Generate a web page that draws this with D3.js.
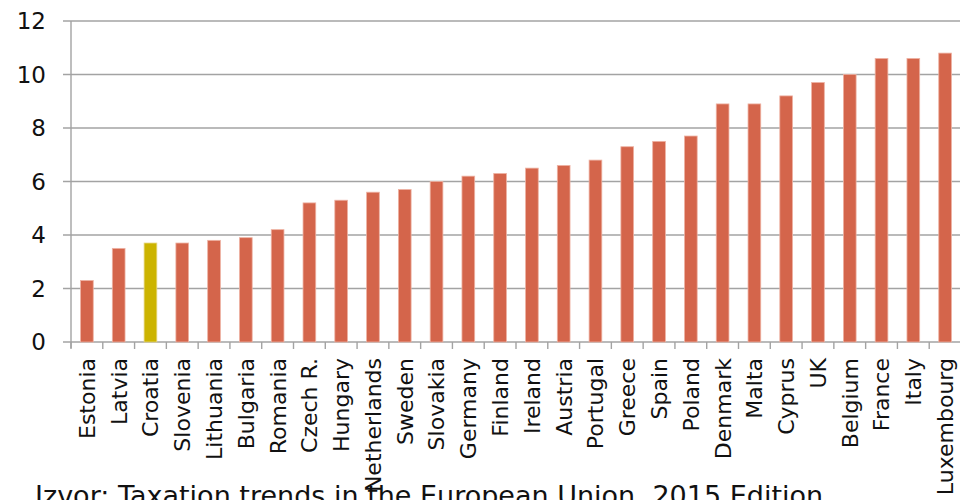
<!DOCTYPE html>
<html>
<head>
<meta charset="utf-8">
<script src="https://cdn.jsdelivr.net/npm/d3@7"></script>
<style>
  body { margin: 0; background: #fff; }
  svg { display: block; font-family: 'DejaVu Sans', sans-serif; }
</style>
</head>
<body>
<div id="chart"></div>
<script>
const countries = ['Estonia', 'Latvia', 'Croatia', 'Slovenia', 'Lithuania', 'Bulgaria', 'Romania',
  'Czech R.', 'Hungary', 'Netherlands', 'Sweden', 'Slovakia', 'Germany', 'Finland', 'Ireland',
  'Austria', 'Portugal', 'Greece', 'Spain', 'Poland', 'Denmark', 'Malta', 'Cyprus', 'UK',
  'Belgium', 'France', 'Italy', 'Luxembourg']
const values = [2.3, 3.5, 3.7, 3.7, 3.8, 3.9, 4.2, 5.2, 5.3, 5.6, 5.7, 6.0, 6.2, 6.3, 6.5,
  6.6, 6.8, 7.3, 7.5, 7.7, 8.9, 8.9, 9.2, 9.7, 10.0, 10.6, 10.6, 10.8]
const yTicks = [0, 2, 4, 6, 8, 10, 12]
const highlight = 'Croatia'
const sourceText = 'Izvor: Taxation trends in the European Union, 2015 Edition'

const data = countries.map((c, i) => ({ name: c, value: values[i] }))

const width = 960
const height = 500
const margin = { top: 21, right: -1, bottom: 158, left: 71 }

const svg = d3.select('#chart')
  .append('svg')
  .attr('width', width)
  .attr('height', height)

const x = d3.scaleBand()
  .domain(countries)
  .range([margin.left, width - margin.right])
  .paddingInner(0.6)
  .paddingOuter(0.3)

const y = d3.scaleLinear()
  .domain([0, 12])
  .range([height - margin.bottom, margin.top])

const gridColor = '#a3a3a3'

// horizontal gridlines
svg.append('g')
  .selectAll('line')
  .data(yTicks)
  .join('line')
  .attr('x1', margin.left - 8)
  .attr('x2', width)
  .attr('y1', d => y(d))
  .attr('y2', d => y(d))
  .attr('stroke', gridColor)
  .attr('stroke-width', 1.4)

// y axis line
svg.append('line')
  .attr('x1', margin.left)
  .attr('x2', margin.left)
  .attr('y1', y(12))
  .attr('y2', y(0) + 6)
  .attr('stroke', gridColor)
  .attr('stroke-width', 1.4)

// y labels
svg.append('g')
  .selectAll('text')
  .data(yTicks)
  .join('text')
  .attr('x', 46)
  .attr('y', d => y(d))
  .attr('dy', '0.36em')
  .attr('text-anchor', 'end')
  .attr('font-size', 23)
  .attr('fill', '#111')
  .text(d => d)

// category ticks at band boundaries
const boundary = d => x(d) - x.step() * x.paddingOuter()
svg.append('g')
  .selectAll('line')
  .data(countries)
  .join('line')
  .attr('x1', d => boundary(d))
  .attr('x2', d => boundary(d))
  .attr('y1', y(0))
  .attr('y2', y(0) + 7)
  .attr('stroke', gridColor)
  .attr('stroke-width', 1.4)

// bars
svg.append('g')
  .selectAll('rect')
  .data(data)
  .join('rect')
  .attr('x', d => x(d.name))
  .attr('y', d => y(d.value))
  .attr('width', x.bandwidth())
  .attr('height', d => y(0) - y(d.value))
  .attr('fill', d => d.name === highlight ? '#ccb400' : '#d4654b')
  .attr('stroke', d => d.name === highlight ? '#e6d680' : '#eeb2a3')
  .attr('stroke-width', 0.8)

// category labels
svg.append('g')
  .selectAll('text')
  .data(countries)
  .join('text')
  .attr('transform', d => `translate(${x(d) + x.bandwidth() / 2},358) rotate(-90)`)
  .attr('dy', '0.36em')
  .attr('text-anchor', 'end')
  .attr('font-size', 22)
  .attr('fill', '#111')
  .text(d => d)

// source note
svg.append('text')
  .attr('x', 35)
  .attr('y', 505)
  .attr('font-size', 27)
  .attr('fill', '#111')
  .text(sourceText)
</script>
</body>
</html>
